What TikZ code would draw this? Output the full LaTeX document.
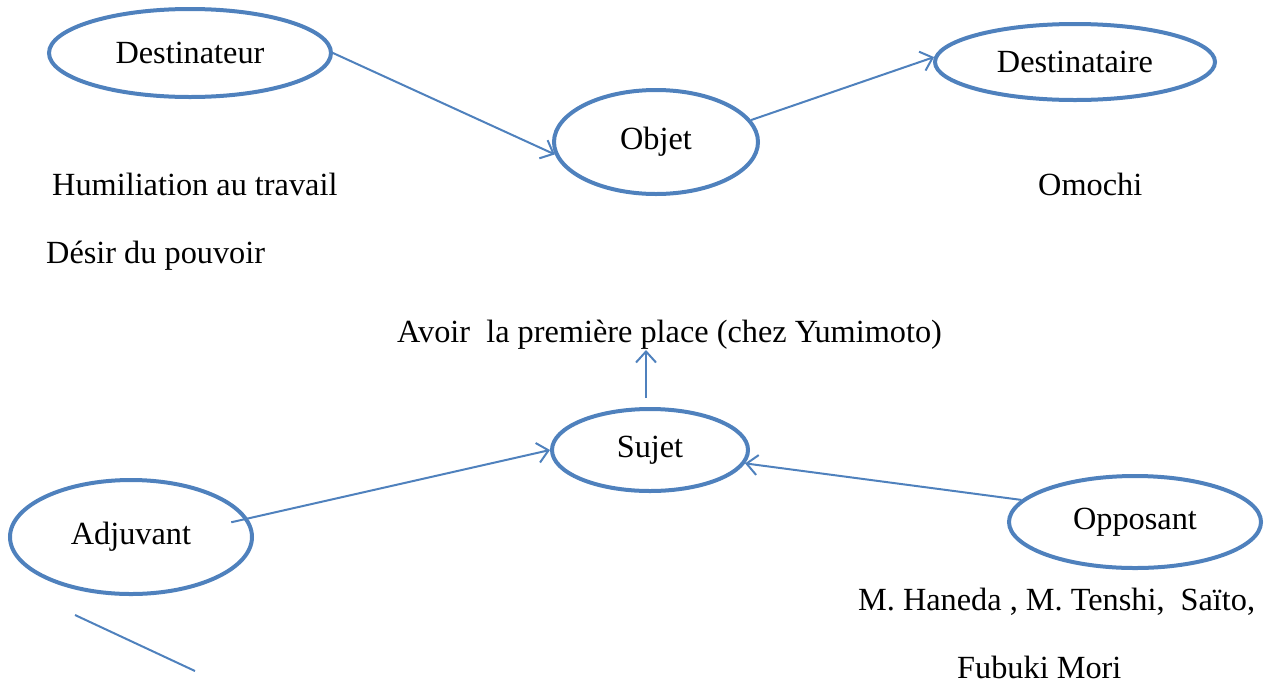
\documentclass[tikz,border=0pt]{standalone}
\usepackage{fontspec}
\setmainfont{Liberation Serif}
\usetikzlibrary{shapes.geometric,arrows.meta}
\definecolor{actblue}{HTML}{4F81BD}
\begin{document}
\begin{tikzpicture}[x=1pt,y=-1pt,
  every node/.style={font=\fontsize{32.3}{38}\selectfont},
  role/.style={ellipse,draw=actblue,line width=4pt,inner sep=0pt,align=center},
  link/.style={draw=actblue,line width=2pt,-{Straight Barb[length=11pt,width=20pt]}},
  plain/.style={draw=actblue,line width=2pt},
  caption/.style={anchor=base west,inner sep=0pt}]
\useasboundingbox (0,0) rectangle (1268,689);

% actant roles
\node[role,minimum width=282pt,minimum height=88pt]  (dtr) at (190,53)   {Destinateur};
\node[role,minimum width=204pt,minimum height=104pt] (obj) at (656,142)  {Objet};
\node[role,minimum width=280pt,minimum height=76pt]  (dta) at (1075,62)  {Destinataire};
\node[role,minimum width=196pt,minimum height=82pt]  (suj) at (650,450)  {Sujet};
\node[role,minimum width=242pt,minimum height=114pt] (adj) at (131,537)  {Adjuvant};
\node[role,minimum width=252pt,minimum height=92pt]  (opp) at (1135,522) {Opposant};

% captions
\node[caption] (hum) at (52,195)  {Humiliation au travail};
\node[caption] (omo) at (1038,195) {Omochi};
\node[caption] (des) at (46,263)  {Désir du pouvoir};
\node[caption] (avo) at (397,342) {Avoir~ la première place (chez Yumimoto)};
\node[caption] (han) at (858,610) {M. Haneda , M. Tenshi,~ Saïto,};
\node[caption] (fub) at (957,678) {Fubuki Mori};

% connectors
\draw[link] (dtr.east) -- (obj.187);
\draw[link] (obj.13) -- (dta.178);
\coordinate (sujtop) at (646,398);
\draw[link] (sujtop) -- (sujtop |- 0,350);
\draw[link,shorten <=-17pt] (adj.9) -- (suj.west);
\draw[link] (opp.169) -- (suj.-8);

% loose stroke under Adjuvant
\coordinate (s1) at (75,615);
\coordinate (s2) at (195,671);
\draw[plain] (s1) -- (s2);
\end{tikzpicture}
\end{document}
